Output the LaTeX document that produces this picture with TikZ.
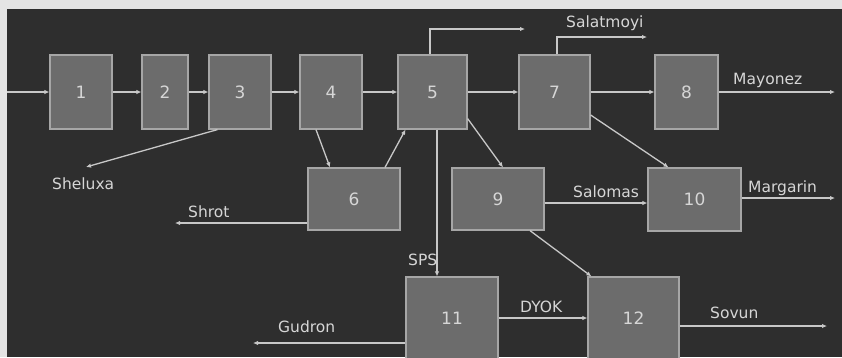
\documentclass[tikz,border=0pt]{standalone}
\usepackage{fontspec}
\setmainfont{DejaVu Sans}
\usetikzlibrary{arrows.meta}
\definecolor{margin}{HTML}{E4E4E4}
\definecolor{panel}{HTML}{2E2E2E}
\definecolor{boxfill}{HTML}{6C6C6C}
\definecolor{boxline}{HTML}{A6A6A6}
\definecolor{wire}{HTML}{C8C8C8}
\definecolor{lab}{HTML}{D6D6D6}
\tikzset{
  procbox/.style={draw=boxline, fill=boxfill, line width=1.2pt, inner sep=0pt,
    text=lab, font=\fontsize{17}{19}\selectfont},
  flow/.style={draw=wire, line width=1.3pt, -{Latex[length=5pt,width=4.5pt]}},
  plainwire/.style={draw=wire, line width=1.3pt},
  lbl/.style={text=lab, font=\fontsize{15.5}{18}\selectfont, anchor=base west, inner sep=0pt},
}
\begin{document}
\begin{tikzpicture}[x=1pt,y=-1pt]
\useasboundingbox (0,0) rectangle (842,357);
\fill[margin] (0,0) rectangle (842,357);
\fill[panel] (7,9) rectangle (842,357);

% boxes
\node[procbox, minimum width=62pt, minimum height=74pt] (b1) at (81,92) {1};
\node[procbox, minimum width=46pt, minimum height=74pt] (b2) at (165,92) {2};
\node[procbox, minimum width=62pt, minimum height=74pt] (b3) at (240,92) {3};
\node[procbox, minimum width=62pt, minimum height=74pt] (b4) at (331,92) {4};
\node[procbox, minimum width=69pt, minimum height=74pt] (b5) at (432.5,92) {5};
\node[procbox, minimum width=71pt, minimum height=74pt] (b7) at (554.5,92) {7};
\node[procbox, minimum width=63pt, minimum height=74pt] (b8) at (686.5,92) {8};
\node[procbox, minimum width=92pt, minimum height=62pt] (b6) at (354,199) {6};
\node[procbox, minimum width=92pt, minimum height=62pt] (b9) at (498,199) {9};
\node[procbox, minimum width=93pt, minimum height=63pt] (b10) at (694.5,199.5) {10};
\node[procbox, minimum width=92pt, minimum height=82pt] (b11) at (452,318) {11};
\node[procbox, minimum width=91pt, minimum height=82pt] (b12) at (633.5,318) {12};

% free ends
\coordinate (inp) at (7,92);
\coordinate (salA) at (525,29);
\coordinate (salB) at (647,37);
\coordinate (mayo) at (835,92);
\coordinate (shel) at (86,167);
\coordinate (shrot) at (175,223);
\coordinate (marg) at (835,198);
\coordinate (gud) at (253,343);
\coordinate (sov) at (827,326);

% main line
\draw[flow] (inp) -- (b1.west);
\draw[flow] (b1) -- (b2);
\draw[flow] (b2) -- (b3);
\draw[flow] (b3) -- (b4);
\draw[flow] (b4) -- (b5);
\draw[flow] (b5) -- (b7);
\draw[flow] (b7) -- (b8);
\draw[flow] (b8) -- (mayo);

% top outputs
\draw[flow] ([xshift=-2.5pt]b5.north) |- (salA);
\draw[flow] ([xshift=2.5pt]b7.north) |- (salB);

% side streams
\draw[flow] ([xshift=9pt]b3.south west) -- (shel);
\draw[flow] ([xshift=-15pt]b4.south) -- ([xshift=-24pt]b6.north);
\draw[flow] ([xshift=31pt]b6.north) -- ([xshift=-27pt]b5.south);
\draw[flow] ([yshift=11pt]b5.south east) -- ([xshift=5pt]b9.north);
\draw[flow] ([xshift=4.5pt]b5.south) -- ([xshift=4.5pt]b5.south |- b11.north);
\draw[flow] ([yshift=-24pt]b6.west) -- (shrot);
\draw[flow] ([yshift=-23pt]b7.east) -- ([xshift=-26pt]b10.north);
\draw[flow] ([yshift=-4pt]b9.east) -- ([yshift=-4pt]b9.east -| b10.west);
\draw[flow] (b10.east |- marg) -- (marg);
\draw[flow] ([xshift=32pt]b9.south) -- ([xshift=4pt]b12.north west);
\draw[flow] ([yshift=-25pt]b11.west) -- (gud);
\draw[flow] (b11.east) -- (b12.west);
\draw[flow] ([yshift=-8pt]b12.east) -- (sov);

% labels
\node[lbl] (tSal) at (566,27) {Salatmoyi};
\node[lbl] (tMay) at (733,84) {Mayonez};
\node[lbl] (tShe) at (52,189) {Sheluxa};
\node[lbl] (tShr) at (188,217) {Shrot};
\node[lbl] (tGud) at (278,332) {Gudron};
\node[lbl] (tSPS) at (408,265) {SPS};
\node[lbl] (tDYO) at (520,312) {DYOK};
\node[lbl] (tSlm) at (573,197) {Salomas};
\node[lbl] (tMar) at (748,192) {Margarin};
\node[lbl] (tSov) at (710,318) {Sovun};
\end{tikzpicture}
\end{document}
